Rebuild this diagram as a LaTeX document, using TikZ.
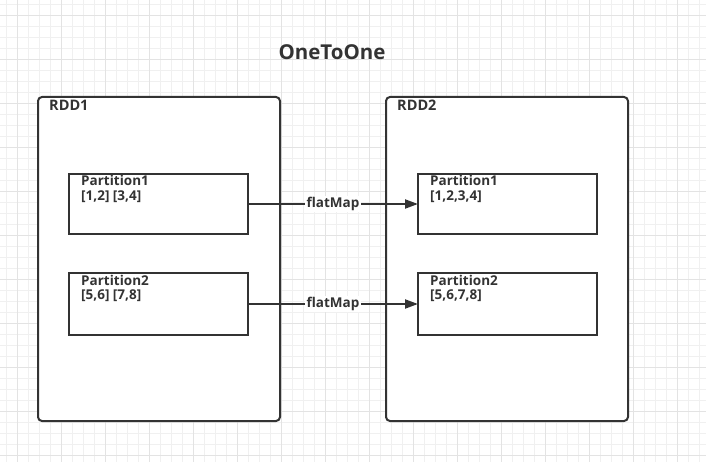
\documentclass[tikz,border=0pt]{standalone}
\usepackage{fontspec}
\setmainfont{Open Sans}
\usetikzlibrary{arrows.meta}
\definecolor{ink}{HTML}{333333}
\definecolor{gridminor}{HTML}{F0F0F0}
\definecolor{gridmajor}{HTML}{E3E3E3}
\tikzset{
  rddbox/.style={draw=ink, line width=2pt, rounded corners=4pt, fill=white},
  partbox/.style={draw=ink, line width=1.5pt, fill=white, rectangle, outer sep=0pt, inner sep=0pt, anchor=north west},
  rddtext/.style={text=ink, font=\bfseries\fontsize{14.5}{17}\selectfont, inner sep=0pt, anchor=base west},
  parttext/.style={text=ink, font=\bfseries\fontsize{13.5}{14.5}\selectfont, inner sep=0pt, align=left, anchor=base west},
  titletext/.style={text=ink, font=\bfseries\fontsize{20.5}{24}\selectfont, inner sep=0pt},
  arr/.style={draw=ink, line width=2pt, -{Triangle[length=13pt,width=9pt]}},
  lab/.style={text=ink, font=\bfseries\fontsize{13.5}{15}\selectfont, fill=white, inner xsep=2pt, inner ysep=1pt}
}
\begin{document}
\begin{tikzpicture}[x=1pt,y=-1pt]
\useasboundingbox (0,0) rectangle (706,462);
\fill[white] (0,0) rectangle (706,462);
% grid
\foreach \i in {0,...,64} {
  \draw[gridminor, line width=1pt] ({6.3+11*\i},0) -- ({6.3+11*\i},462);
}
\foreach \i in {0,...,42} {
  \draw[gridminor, line width=1pt] (0,{4.7+11*\i}) -- (706,{4.7+11*\i});
}
\foreach \i in {0,...,16} {
  \draw[gridmajor, line width=1pt] ({17.3+44*\i},0) -- ({17.3+44*\i},462);
}
\foreach \i in {0,...,10} {
  \draw[gridmajor, line width=1pt] (0,{15.7+44*\i}) -- (706,{15.7+44*\i});
}
% title
\node[titletext] (title) at (332,52) {OneToOne};
% RDD boxes
\draw[rddbox] (38,97) rectangle (280,421);
\coordinate (r1) at (49,111);
\node[rddtext] (rdd1) at (r1) {RDD1};
\draw[rddbox] (386,97) rectangle (628,421);
\coordinate (r2) at (397,111);
\node[rddtext] (rdd2) at (r2) {RDD2};
% partitions
\node[partbox, minimum width=179pt, minimum height=60pt] (p1) at (69,174) {};
\node[partbox, minimum width=179pt, minimum height=62pt] (p2) at (69,273) {};
\node[partbox, minimum width=179pt, minimum height=60pt] (q1) at (418,174) {};
\node[partbox, minimum width=179pt, minimum height=62pt] (q2) at (418,273) {};
\node[parttext] (t1) at ([xshift=12pt,yshift=-26.5pt]p1.north west) {Partition1\\{[1,2] [3,4]}};
\node[parttext] (t2) at ([xshift=12pt,yshift=-26.5pt]p2.north west) {Partition2\\{[5,6] [7,8]}};
\node[parttext] (u1) at ([xshift=12pt,yshift=-26.5pt]q1.north west) {Partition1\\{[1,2,3,4]}};
\node[parttext] (u2) at ([xshift=12pt,yshift=-26.5pt]q2.north west) {Partition2\\{[5,6,7,8]}};
% arrows
\draw[arr] (p1.east) -- node[lab] (l1) {flatMap} (q1.west);
\draw[arr] (p2.east) -- node[lab] (l2) {flatMap} (q2.west);
\end{tikzpicture}
\end{document}
